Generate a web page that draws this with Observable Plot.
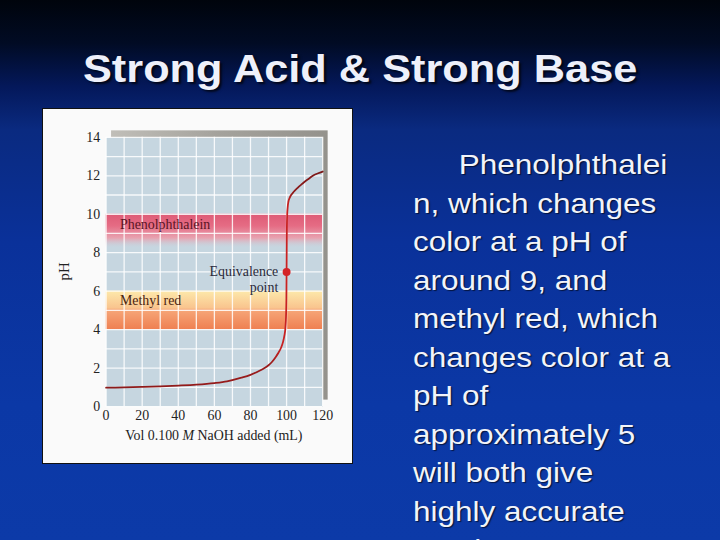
<!DOCTYPE html>
<html>
<head>
<meta charset="utf-8">
<script src="https://cdn.jsdelivr.net/npm/d3@7"></script>
<script src="https://cdn.jsdelivr.net/npm/@observablehq/plot@0.6"></script>
<style>
  html, body { margin: 0; padding: 0; }
  body {
    width: 720px; height: 540px; overflow: hidden; position: relative;
    background: linear-gradient(to bottom, #00040c 0%, #010b24 8%, #04185a 16%, #0a2a80 24%, #0a319a 45%, #0b38a6 75%, #0c3aa8 100%);
    font-family: "Liberation Sans", Arial, sans-serif;
  }
  #title {
    position: absolute; left: 0; width: 720px; top: 45px; text-align: center;
    color: #eef0fa; font-weight: bold; font-size: 38px; line-height: 48px;
    text-shadow: 2px 2px 2px rgba(0,0,0,0.7);
  }
  #title span { display: inline-block; transform: scaleX(1.14); }
  #box {
    position: absolute; left: 42px; top: 108px; width: 309px; height: 354px;
    background: #fafafa; border: 1px solid #111;
  }
  #box svg { position: absolute; left: -1px; top: -1px; }
  #box svg g[aria-label*="axis"] text,
  #box svg g[aria-label*="tick label"] text { font-size: 14px; fill: #222; }
  #text {
    position: absolute; left: 413px; top: 146px; color: #f2f4fa;
    font-size: 27.5px; line-height: 38.5px; white-space: pre;
    transform: scaleX(1.145); transform-origin: left top;
    text-shadow: 1px 1px 1px rgba(0,0,0,0.6);
  }
  #text .indent { padding-left: 40px; }
</style>
</head>
<body>
<div id="title"><span>Strong Acid &amp; Strong Base</span></div>
<div id="box"></div>
<div id="text"></div>
<script>
// ---- data ----
const volume = [0, 10, 20, 30, 40, 50, 60, 67, 75, 80, 85, 88, 90, 92, 94, 95.5, 97, 98, 98.8, 99.4, 99.7, 99.9, 100, 100.1, 100.3, 100.6, 101, 101.7, 102.5, 104, 106, 108, 110, 112.5, 115, 117.5, 120];
const pH     = [0.98, 1.0, 1.02, 1.05, 1.09, 1.14, 1.22, 1.31, 1.5, 1.65, 1.86, 2.02, 2.15, 2.33, 2.58, 2.8, 3.07, 3.35, 3.7, 4.15, 4.7, 5.6, 7.0, 8.6, 9.9, 10.35, 10.65, 10.85, 11.0, 11.17, 11.36, 11.53, 11.69, 11.86, 12.03, 12.13, 12.22];
const xTicks = [0, 20, 40, 60, 80, 100, 120];
const yTicks = [0, 2, 4, 6, 8, 10, 12, 14];
const xGrid = d3.range(0, 121, 10);
const yGrid = d3.range(0, 15, 1);
const xDomain = [0, 120];
const yDomain = [0, 14];
const bandNames = ["Phenolphthalein", "Methyl red"];
const bandLow = [8.2, 4];
const bandHigh = [10, 6];
const bandLabelX = [7.7, 7.7];
const bandLabelY = [9.45, 5.5];
const equivVolume = [100];
const equivPH = [7];
const equivLabels = ["Equivalence", "point"];
const equivLabelX = [95.4, 95.4];
const equivLabelY = [7.04, 6.21];
const bodyLines = ["Phenolphthalei", "n, which changes", "color at a pH of", "around 9, and", "methyl red, which", "changes color at a", "pH of", "approximately 5", "will both give", "highly accurate", "results."];

const textDiv = document.getElementById("text");
bodyLines.forEach((l, i) => {
  const d = document.createElement("div");
  if (i === 0) d.className = "indent";
  d.textContent = l;
  textDiv.appendChild(d);
});

const curve = volume.map((v, i) => ({v, p: pH[i]}));
const bands = bandNames.map((n, i) => ({n, lo: bandLow[i], hi: bandHigh[i], lx: bandLabelX[i], ly: bandLabelY[i]}));
const equiv = equivVolume.map((v, i) => ({v, p: equivPH[i]}));
const eqLabels = equivLabels.map((t, i) => ({t, x: equivLabelX[i], y: equivLabelY[i]}));

const W = 311, H = 356;
const plot = Plot.plot({
  width: W, height: H,
  marginLeft: 64, marginRight: 29, marginTop: 29, marginBottom: 56,
  style: {background: "transparent", fontFamily: "'Liberation Serif', 'Times New Roman', serif", fontSize: "14px", color: "#222", overflow: "visible"},
  x: {domain: xDomain, ticks: xTicks, tickSize: 0, tickPadding: 4, tickFormat: d => String(d), label: null},
  y: {domain: yDomain, ticks: yTicks, tickSize: 0, tickPadding: 6, tickFormat: d => String(d), label: null},
  marks: [
    Plot.frame({fill: "url(#shadowGrad)", stroke: null, dx: 5, dy: -7}),
    Plot.frame({fill: "#c6d6e0", stroke: null}),
    Plot.rect([bands[0]], {x1: () => xDomain[0], x2: () => xDomain[1], y1: "lo", y2: "hi", fill: "url(#pinkGrad)"}),
    Plot.rect([bands[1]], {x1: () => xDomain[0], x2: () => xDomain[1], y1: "lo", y2: "hi", fill: "url(#orangeGrad)"}),
    Plot.ruleX(xGrid, {stroke: "#ffffff", strokeWidth: 1.3, strokeOpacity: 0.85}),
    Plot.ruleY(yGrid, {stroke: "#ffffff", strokeWidth: 1.3, strokeOpacity: 0.85}),
    Plot.text([bands[0]], {x: "lx", y: "ly", text: "n", textAnchor: "start", fill: "#5a1424", fontSize: 14}),
    Plot.text([bands[1]], {x: "lx", y: "ly", text: "n", textAnchor: "start", fill: "#4a2410", fontSize: 14}),
    Plot.text(eqLabels, {x: "x", y: "y", text: "t", textAnchor: "end", fill: "#2a2a3a", fontSize: 14}),
    Plot.line(curve, {x: "v", y: "p", stroke: "url(#curveGrad)", strokeWidth: 1.8, curve: "monotone-x"}),
    Plot.dot(equiv, {x: "v", y: "p", r: 4, fill: "#d42226", stroke: null})
  ]
});

const svg = d3.select(plot);
svg.insert("defs", ":first-child").html(`
  <linearGradient id="pinkGrad" x1="0" y1="0" x2="0" y2="1">
    <stop offset="0" stop-color="#de5a76"/>
    <stop offset="0.35" stop-color="#e56c84"/>
    <stop offset="0.7" stop-color="#e8a2b0"/>
    <stop offset="1" stop-color="#c6d6e0" stop-opacity="0"/>
  </linearGradient>
  <linearGradient id="orangeGrad" x1="0" y1="0" x2="0" y2="1">
    <stop offset="0" stop-color="#fde9ab"/>
    <stop offset="0.45" stop-color="#f9c48e"/>
    <stop offset="0.5" stop-color="#f6a678"/>
    <stop offset="1" stop-color="#ef8052"/>
  </linearGradient>
  <linearGradient id="shadowGrad" x1="0" y1="0" x2="1" y2="0">
    <stop offset="0" stop-color="#c0beb8"/>
    <stop offset="0.5" stop-color="#a4a29c"/>
    <stop offset="1" stop-color="#94928c"/>
  </linearGradient>
  <linearGradient id="curveGrad" x1="0" y1="0" x2="1" y2="0">
    <stop offset="0" stop-color="#8c1a1a"/>
    <stop offset="0.76" stop-color="#9a1c1c"/>
    <stop offset="0.81" stop-color="#c82222"/>
    <stop offset="0.84" stop-color="#c82222"/>
    <stop offset="0.86" stop-color="#8c1a1a"/>
    <stop offset="1" stop-color="#7a1818"/>
  </linearGradient>`);

// axis titles
const xs = plot.scale("x").range, ys = plot.scale("y").range;
const xt = svg.append("text")
  .attr("x", (xs[0] + xs[1]) / 2).attr("y", H - 22)
  .attr("text-anchor", "middle").attr("fill", "#222").attr("font-size", 14)
  .attr("font-family", "'Liberation Serif', serif");
xt.append("tspan").text("Vol 0.100 ");
xt.append("tspan").attr("font-style", "italic").text("M");
xt.append("tspan").text(" NaOH added (mL)");
svg.append("text")
  .attr("transform", `translate(${xs[0] - 37},${(ys[0] + ys[1]) / 2}) rotate(-90)`)
  .attr("text-anchor", "middle").attr("fill", "#222").attr("font-size", 15)
  .attr("font-family", "'Liberation Serif', serif").text("pH");

document.getElementById("box").appendChild(plot);
</script>
</body>
</html>
